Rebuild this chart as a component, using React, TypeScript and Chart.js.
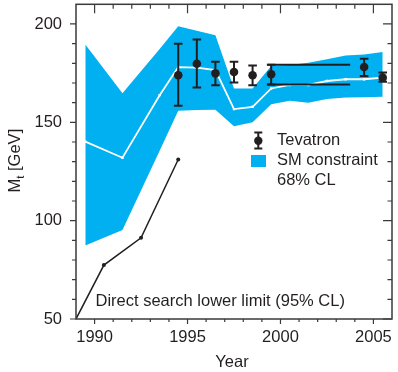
import React, { useEffect, useRef } from "react";
import { Chart, registerables } from "chart.js";

Chart.register(...registerables);

// ---------- data ----------
const bandYears = [1989.5, 1991.5, 1993.5, 1994.5, 1995.5, 1996.5, 1997.5, 1998.5, 1999.5, 2000.5, 2001.5, 2002.5, 2003.5, 2004.5, 2005.5];
const bandUpper = [189.5, 164.8, 187.3, 198.8, 196.5, 194.3, 167.2, 167.2, 178.6, 179.1, 180.3, 182.0, 184.0, 184.5, 185.8];
const bandLower = [87.4, 95.3, 135.6, 155.9, 156.2, 156.4, 148.0, 150.0, 159.2, 161.0, 160.0, 161.8, 162.6, 162.8, 163.0];
const smCentral = [140.2, 132.0, 163.8, 178.1, 177.8, 176.6, 156.7, 157.9, 167.2, 169.0, 169.0, 171.0, 171.9, 171.9, 172.7];

const directYears = [1989, 1990.5, 1992.5, 1994.5];
const directLimit = [50, 77.4, 91.3, 131.1];

const tevYears = [1994.5, 1995.5, 1996.5, 1997.5, 1998.5, 1999.5, 2004.5, 2005.5];
const tevMass = [173.9, 179.8, 174.9, 175.6, 173.9, 174.4, 178.1, 172.7];
const tevHi = [190.0, 192.1, 180.8, 180.8, 178.9, 179.3, 182.3, 175.3];
const tevLo = [158.4, 167.7, 168.8, 170.2, 168.8, 169.2, 173.6, 170.6];

const rangeYears = [1999.3, 2003.75];
const rangeHi = 179.3;
const rangeLo = 169.2;

const xTickLabels = [1990, 1995, 2000, 2005];
const yTickLabels = [50, 100, 150, 200];
const xMin = 1989, xMax = 2006, yMin = 50, yMax = 210;

const legendLabels = ["Tevatron", "SM constraint", "68% CL"];
const directLabel = "Direct search lower limit (95% CL)";
const xTitle = "Year";

// ---------- style ----------
const FONT = '"Liberation Sans", Arial, Helvetica, sans-serif';
const FS = 16.5;
const TEXT = "#231f20";
const FRAME = "#3a3a3a";
const BLUE = "#00b0f0";

const zeroPad = (s: any) => {
  s.paddingTop = 0;
  s.paddingBottom = 0;
  s.paddingLeft = 0;
  s.paddingRight = 0;
};

const overlay = {
  id: "overlay",
  afterDatasetsDraw(chart: any) {
    const ctx = chart.ctx;
    const xs = chart.scales.x, ys = chart.scales.y;
    ctx.save();
    ctx.strokeStyle = TEXT;
    ctx.lineWidth = 2;
    tevYears.forEach((yr, i) => {
      const x = xs.getPixelForValue(yr);
      const yh = ys.getPixelForValue(tevHi[i]);
      const yl = ys.getPixelForValue(tevLo[i]);
      ctx.beginPath();
      ctx.moveTo(x, yh); ctx.lineTo(x, yl);
      ctx.moveTo(x - 4.3, yh); ctx.lineTo(x + 4.3, yh);
      ctx.moveTo(x - 4.3, yl); ctx.lineTo(x + 4.3, yl);
      ctx.stroke();
    });
    ctx.restore();
  },
  afterDraw(chart: any) {
    const ctx = chart.ctx;
    const a = chart.chartArea;
    const xs = chart.scales.x, ys = chart.scales.y;
    ctx.save();
    // frame
    ctx.strokeStyle = FRAME;
    ctx.lineWidth = 1.5;
    ctx.strokeRect(a.left, a.top, a.right - a.left, a.bottom - a.top);
    // ticks
    ctx.lineWidth = 1.2;
    ctx.beginPath();
    for (let yr = 1990; yr <= 2005; yr++) {
      const x = xs.getPixelForValue(yr);
      const major = yr % 5 === 0;
      ctx.moveTo(x, a.bottom); ctx.lineTo(x, a.bottom + (major ? 5 : 3));
      ctx.moveTo(x, a.top); ctx.lineTo(x, a.top + (major ? 9 : 4.5));
    }
    for (let v = 50; v <= 200; v += 10) {
      const y = ys.getPixelForValue(v);
      const major = v % 50 === 0;
      ctx.moveTo(a.left, y); ctx.lineTo(a.left - (major ? 6 : 4), y);
      ctx.moveTo(a.right, y); ctx.lineTo(a.right - (major ? 9 : 4.5), y);
    }
    ctx.stroke();

    // texts
    ctx.fillStyle = TEXT;
    ctx.font = `${FS}px ${FONT}`;
    ctx.textBaseline = "alphabetic";
    ctx.textAlign = "left";
    ctx.fillText(directLabel, xs.getPixelForValue(1990.05), ys.getPixelForValue(56.8));

    ctx.textAlign = "center";
    ctx.fillText(xTitle, (a.left + a.right) / 2 - 2, a.bottom + 47.5);

    // y title with subscript
    ctx.save();
    ctx.translate(19.5, (a.top + a.bottom) / 2 - 1);
    ctx.rotate(-Math.PI / 2);
    ctx.textAlign = "left";
    const fSmall = `${FS * 0.7}px ${FONT}`;
    const fBig = `${FS}px ${FONT}`;
    ctx.font = fBig;
    const wM = ctx.measureText("M").width;
    const wRest = ctx.measureText(" [GeV]").width;
    ctx.font = fSmall;
    const wt = ctx.measureText("t").width;
    const total = wM + wt + wRest;
    let px = -total / 2;
    ctx.font = fBig;
    ctx.fillText("M", px, 0); px += wM;
    ctx.font = fSmall;
    ctx.fillText("t", px, 4); px += wt;
    ctx.font = fBig;
    ctx.fillText(" [GeV]", px, 0);
    ctx.restore();

    // legend
    const lx = 258.3;
    const ly0 = 140.7;
    ctx.strokeStyle = TEXT;
    ctx.lineWidth = 2;
    ctx.beginPath();
    ctx.moveTo(lx, ly0 - 8.3); ctx.lineTo(lx, ly0 + 7.7);
    ctx.moveTo(lx - 4, ly0 - 8.3); ctx.lineTo(lx + 4, ly0 - 8.3);
    ctx.moveTo(lx - 4, ly0 + 7.7); ctx.lineTo(lx + 4, ly0 + 7.7);
    ctx.stroke();
    ctx.beginPath();
    ctx.arc(lx, ly0, 4.2, 0, Math.PI * 2);
    ctx.fill();
    ctx.fillStyle = BLUE;
    ctx.fillRect(251, 155, 15, 12);
    ctx.fillStyle = TEXT;
    ctx.font = fBig;
    ctx.textAlign = "left";
    ctx.textBaseline = "middle";
    legendLabels.forEach((t, i) => ctx.fillText(t, 277, ly0 + i * 20));
    ctx.restore();
  },
};

export default function App() {
  const ref = useRef<HTMLCanvasElement>(null);
  useEffect(() => {
    if (!ref.current) return;
    const pts = (xs: number[], ys: number[]) => xs.map((x, i) => ({ x, y: ys[i] }));
    const chart = new Chart(ref.current, {
      type: "line",
      data: {
        datasets: [
          {
            data: pts(tevYears, tevMass),
            showLine: false,
            pointRadius: 4.3,
            pointBackgroundColor: TEXT,
            pointBorderColor: TEXT,
            pointBorderWidth: 0,
            order: 1,
          } as any,
          {
            data: pts(rangeYears, [rangeHi, rangeHi]),
            borderColor: TEXT,
            borderWidth: 2,
            pointRadius: 0,
            order: 2,
          },
          {
            data: pts(rangeYears, [rangeLo, rangeLo]),
            borderColor: TEXT,
            borderWidth: 2,
            pointRadius: 0,
            order: 2,
          },
          {
            data: pts(directYears, directLimit),
            borderColor: TEXT,
            borderWidth: 1.5,
            pointRadius: directYears.map((_, i) => (i === 0 ? 0 : 2)),
            pointBackgroundColor: TEXT,
            pointBorderWidth: 0,
            order: 3,
          },
          {
            data: pts(bandYears, smCentral),
            borderColor: "#ffffff",
            borderWidth: 1.8,
            pointRadius: 1.7,
            pointStyle: "rect",
            pointBackgroundColor: "#ffffff",
            pointBorderWidth: 0,
            order: 4,
          },
          {
            data: pts(bandYears, bandUpper),
            borderWidth: 0,
            borderColor: BLUE,
            backgroundColor: BLUE,
            pointRadius: 0,
            fill: "+1",
            order: 10,
          },
          {
            data: pts(bandYears, bandLower),
            borderWidth: 0,
            borderColor: BLUE,
            pointRadius: 0,
            fill: false,
            order: 11,
          },
        ],
      },
      options: {
        responsive: false,
        animation: false,
        devicePixelRatio: 1,
        layout: { padding: { top: 2, right: 6, left: 0, bottom: 0 } },
        plugins: { legend: { display: false }, tooltip: { enabled: false } },
        elements: { line: { tension: 0 } },
        scales: {
          x: {
            type: "linear",
            min: xMin,
            max: xMax,
            afterBuildTicks: (s: any) => { s.ticks = xTickLabels.map((v) => ({ value: v })); },
            afterFit: (s: any) => { s.height = 53; zeroPad(s); },
            ticks: {
              autoSkip: false,
              maxRotation: 0,
              padding: 9,
              color: TEXT,
              font: { family: FONT, size: FS },
              callback: (v: any) => String(v),
            },
            grid: { display: false, drawTicks: false },
            border: { display: false },
          },
          y: {
            type: "linear",
            min: yMin,
            max: yMax,
            afterBuildTicks: (s: any) => { s.ticks = yTickLabels.map((v) => ({ value: v })); },
            afterFit: (s: any) => { s.width = 76; zeroPad(s); },
            ticks: {
              autoSkip: false,
              padding: 14,
              color: TEXT,
              font: { family: FONT, size: FS },
              callback: (v: any) => String(v),
            },
            grid: { display: false, drawTicks: false },
            border: { display: false },
          },
        },
      },
      plugins: [overlay],
    });
    return () => chart.destroy();
  }, []);
  return (
    <div style={{ position: "fixed", left: 0, top: 0, width: 398, height: 372, background: "#fff" }}>
      <canvas ref={ref} width={398} height={372} style={{ display: "block" }} />
    </div>
  );
}
